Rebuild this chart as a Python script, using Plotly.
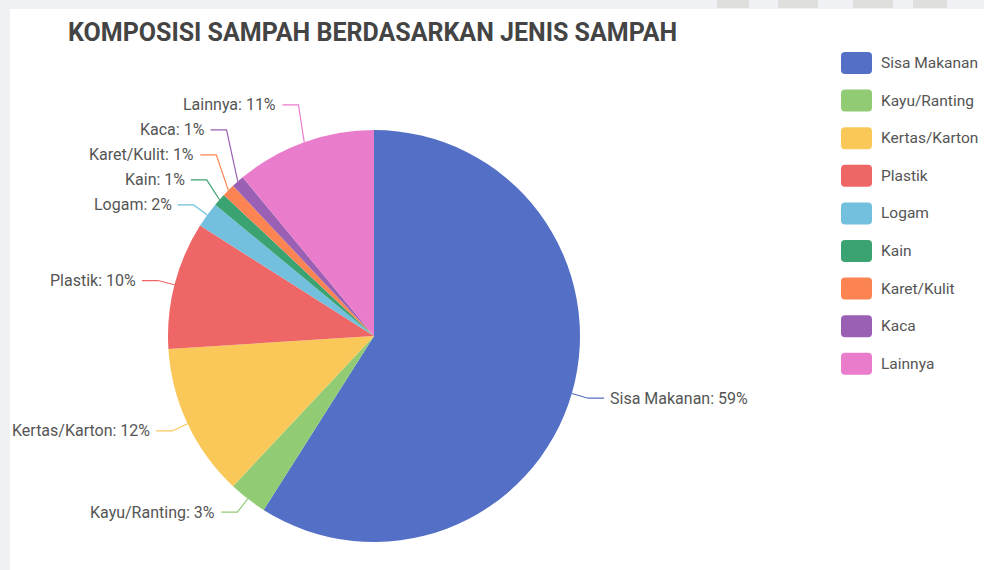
import math
import plotly.graph_objects as go

# ---------------- data ----------------
categories = ["Sisa Makanan", "Kayu/Ranting", "Kertas/Karton", "Plastik", "Logam",
              "Kain", "Karet/Kulit", "Kaca", "Lainnya"]
percentages = [59, 3, 12, 10, 2, 1, 1, 1, 11]
colors = ["#5470c6", "#91cc75", "#fac858", "#ee6666", "#73c0de",
          "#3ba272", "#fc8452", "#9a60b4", "#ea7ccc"]
chart_title = "KOMPOSISI SAMPAH BERDASARKAN JENIS SAMPAH"

# ---------------- layout geometry (pixels) ----------------
W, H = 984, 570
CX, CY, R = 374, 336, 206
LEN1, LEN2, GAP_TXT, MIN_SEP = 17, 16, 4, 25
FONT = "Roboto, 'Liberation Sans', sans-serif"
TEXT_COLOR = "#555555"


def fx(px):
    return px / W


def fy(py):
    return 1 - py / H


fig = go.Figure(go.Pie(
    labels=categories, values=percentages, sort=False,
    direction="clockwise", rotation=0,
    marker=dict(colors=colors, line=dict(width=0)),
    textinfo="none", showlegend=False,
    domain=dict(x=[fx(CX - R), fx(CX + R)], y=[fy(CY + R), fy(CY - R)]),
    hovertemplate="%{label}: %{percent}<extra></extra>",
))

shapes = []
annotations = []

# background card + faint header blocks
shapes.append(dict(type="rect", xref="paper", yref="paper", x0=fx(10), x1=fx(W),
                   y0=fy(H), y1=fy(9), fillcolor="white", line=dict(width=0), layer="below"))
for x0, x1 in [(717, 749), (778, 818), (853, 893), (913, 947)]:
    shapes.append(dict(type="rect", xref="paper", yref="paper", x0=fx(x0), x1=fx(x1),
                       y0=fy(8), y1=fy(0), fillcolor="#dfe0dd", line=dict(width=0), layer="below"))

# ---------------- outside labels with leader lines ----------------
total = sum(percentages)
items = []
cum = 0.0
for name, val, col in zip(categories, percentages, colors):
    mid = (cum + val / 2) / total * 2 * math.pi
    cum += val
    dx, dy = math.sin(mid), -math.cos(mid)
    items.append(dict(
        name=name, val=val, col=col, right=dx >= 0,
        ex=CX + R * dx, ey=CY + R * dy,
        bx=CX + (R + LEN1) * dx, by=CY + (R + LEN1) * dy,
    ))

for side in (True, False):
    grp = sorted([it for it in items if it["right"] == side], key=lambda d: d["by"])
    for i in range(len(grp) - 2, -1, -1):
        grp[i]["by"] = min(grp[i]["by"], grp[i + 1]["by"] - MIN_SEP)

for it in items:
    sgn = 1 if it["right"] else -1
    endx = it["bx"] + sgn * LEN2
    path = "M {:.5f},{:.5f} L {:.5f},{:.5f} L {:.5f},{:.5f}".format(
        fx(it["ex"]), fy(it["ey"]), fx(it["bx"]), fy(it["by"]), fx(endx), fy(it["by"]))
    shapes.append(dict(type="path", xref="paper", yref="paper", path=path,
                       line=dict(color=it["col"], width=1.2), layer="above"))
    pct = it["val"] / total * 100
    annotations.append(dict(
        xref="paper", yref="paper", x=fx(endx + sgn * GAP_TXT), y=fy(it["by"]),
        xanchor="left" if it["right"] else "right", yanchor="middle",
        text=f"{it['name']}: {pct:.0f}%", showarrow=False,
        font=dict(family=FONT, size=16, color=TEXT_COLOR),
    ))

# ---------------- custom legend ----------------
LEG_Y0, LEG_STEP = 63, 37.6
SW_X0, SW_X1, SW_H, SW_R = 841, 872, 22, 4
for i, (name, col) in enumerate(zip(categories, colors)):
    yc = LEG_Y0 + i * LEG_STEP
    y0, y1 = yc - SW_H / 2, yc + SW_H / 2
    x0, x1 = SW_X0, SW_X1
    r = SW_R
    p = (f"M {fx(x0 + r)},{fy(y0)} L {fx(x1 - r)},{fy(y0)} Q {fx(x1)},{fy(y0)} {fx(x1)},{fy(y0 + r)} "
         f"L {fx(x1)},{fy(y1 - r)} Q {fx(x1)},{fy(y1)} {fx(x1 - r)},{fy(y1)} "
         f"L {fx(x0 + r)},{fy(y1)} Q {fx(x0)},{fy(y1)} {fx(x0)},{fy(y1 - r)} "
         f"L {fx(x0)},{fy(y0 + r)} Q {fx(x0)},{fy(y0)} {fx(x0 + r)},{fy(y0)} Z")
    shapes.append(dict(type="path", xref="paper", yref="paper", path=p,
                       fillcolor=col, line=dict(width=0), layer="above"))
    annotations.append(dict(
        xref="paper", yref="paper", x=fx(879), y=fy(yc), xanchor="left", yanchor="middle",
        text=name, showarrow=False, font=dict(family=FONT, size=15.5, color=TEXT_COLOR),
    ))

# ---------------- title ----------------
annotations.append(dict(
    xref="paper", yref="paper", x=fx(66), y=fy(33), xanchor="left", yanchor="middle",
    text=chart_title, showarrow=False,
    font=dict(family=FONT, size=25, color="#444444", weight="bold"),
))

fig.update_layout(
    width=W, height=H,
    margin=dict(l=0, r=0, t=0, b=0),
    paper_bgcolor="#f0f1f4", plot_bgcolor="white",
    showlegend=False,
    shapes=shapes, annotations=annotations,
)

fig.write_html(
    "out.html",
    config={"displayModeBar": False},
    post_script="document.body.style.margin='0px';document.body.style.overflow='hidden';",
)
